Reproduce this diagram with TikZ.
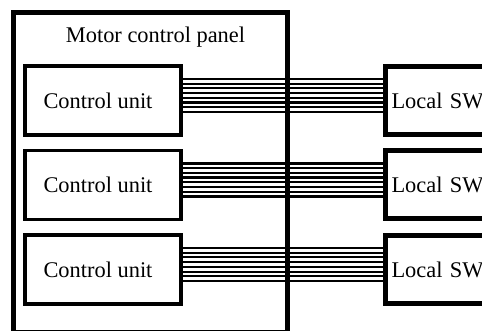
\documentclass[tikz,border=0pt]{standalone}
\usepackage{fontspec}
\setmainfont{Liberation Serif}
\newfontfamily\refserif{Liberation Serif}
\usetikzlibrary{backgrounds}
\begin{document}
\begin{tikzpicture}[x=1pt,y=-1pt,
  lbl/.style={font=\refserif\fontsize{22.4}{26}\selectfont},
  panelbox/.style={draw, line width=5pt, minimum width=274pt, minimum height=320pt, inner sep=0pt, outer sep=0pt},
  cubox/.style={lbl, draw, line width=3.6pt, minimum width=156pt, minimum height=69pt, inner sep=0pt, outer sep=0pt},
  swbox/.style={lbl, draw, line width=5pt, anchor=west, text width=130pt, align=left, inner xsep=6.5pt, inner ysep=0pt, minimum height=68pt, outer sep=0pt},
  wire/.style={line width=2.2pt}]
\useasboundingbox (0,0) rectangle (482,331);
\clip (0,0) rectangle (482,331);
\node[panelbox] (panel) at (150.5,172.5) {};
\node[lbl, anchor=base] (title) at (155.5,43) {Motor control panel};
\node[cubox] (cu1) at (103,100.5) {Control unit\rule{10pt}{0pt}};
\node[cubox] (cu2) at (103,185) {Control unit\rule{10pt}{0pt}};
\node[cubox] (cu3) at (103,269.5) {Control unit\rule{10pt}{0pt}};
\node[swbox] (sw1) at (385,100.5) {Local SW};
\node[swbox] (sw2) at (385,185) {Local SW};
\node[swbox] (sw3) at (385,269.5) {Local SW};
\begin{scope}[on background layer]
\foreach \i in {1,2,3}{
  \foreach \dy in {-11.5,-6.8,-2.1,2.6,7.4,12.1,16.8,21.5}{
    \draw[wire] ([yshift=\dy pt]cu\i.east) -- ([yshift=\dy pt]sw\i.west);
  }
}
\end{scope}
\end{tikzpicture}
\end{document}
